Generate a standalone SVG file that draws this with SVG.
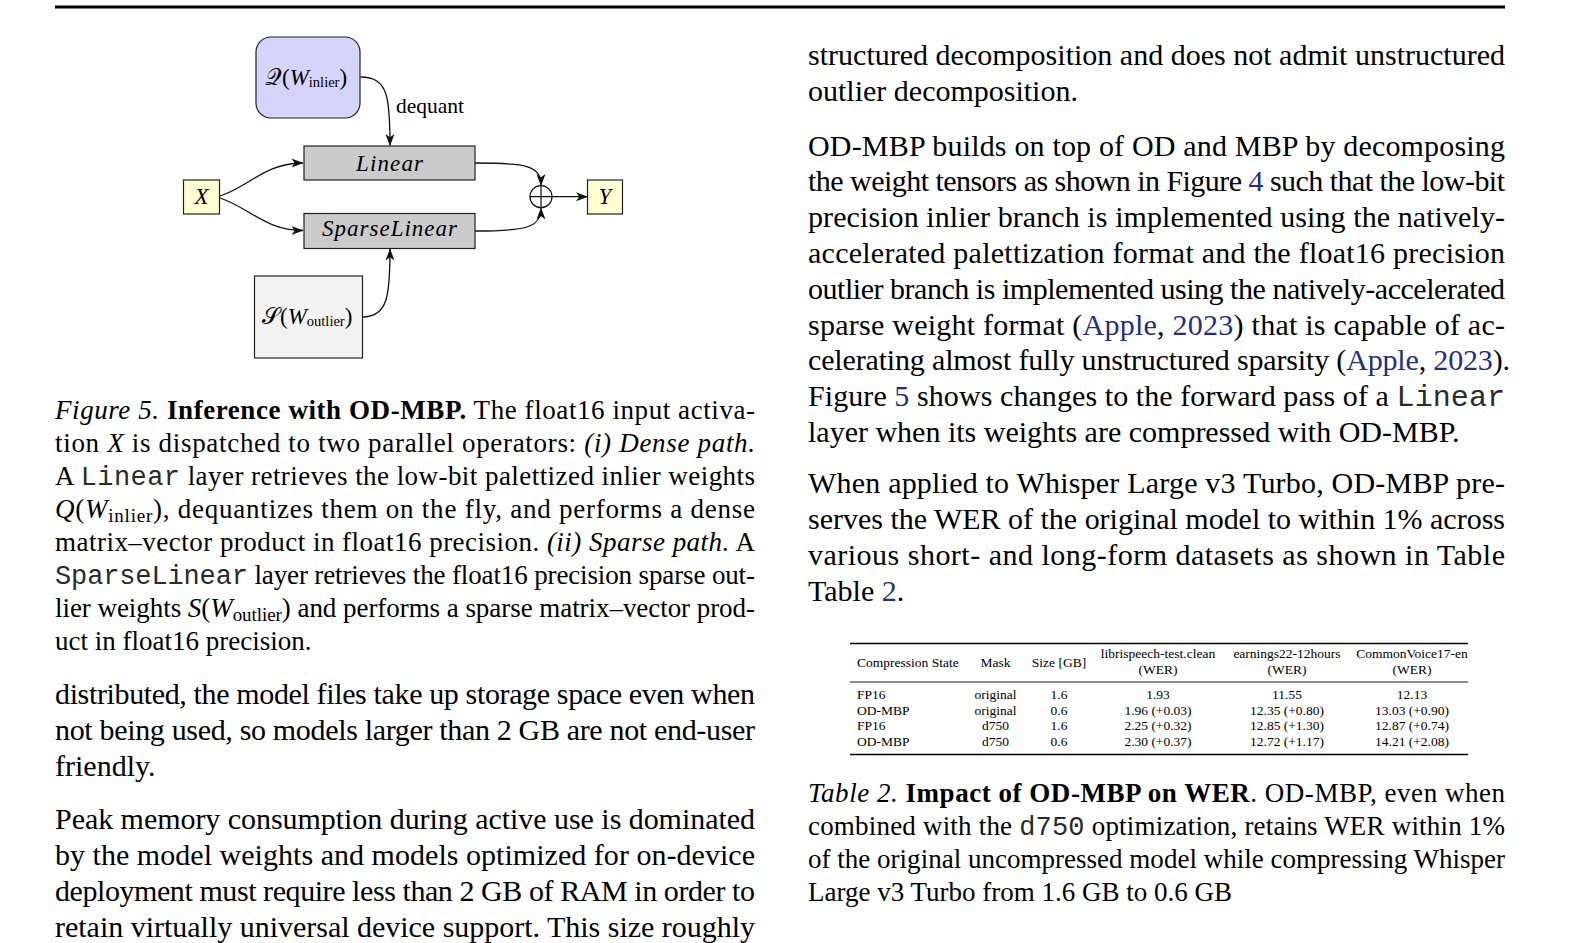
<svg xmlns="http://www.w3.org/2000/svg" width="1576" height="943" viewBox="0 0 1576 943">
<style>
text{font-family:"Liberation Serif","Times New Roman",serif;fill:#000}
.b{font-size:30px}
.c{font-size:27px}
.i{font-style:italic}
.bd{font-weight:bold}
.m{font-family:"Liberation Mono","DejaVu Sans Mono",monospace;fill:#2a2a2a}
.lk{fill:#1f2f86}
.sub{font-size:19px}
.tb{font-size:13.5px}
.box{stroke:#222;stroke-width:1.2}
.con{fill:none;stroke:#111;stroke-width:1.3;marker-end:url(#arr)}
.fig{font-size:23px}
.scr{font-family:"DejaVu Serif","DejaVu Sans",serif;font-style:normal}
</style>
<defs>
<marker id="arr" markerUnits="userSpaceOnUse" viewBox="0 0 12 10" markerWidth="12" markerHeight="10" refX="11.5" refY="5" orient="auto">
<path d="M0,0.5 L12,5 L0,9.5 L3.2,5 Z" fill="#111"/>
</marker>
</defs>
<rect width="1576" height="943" fill="#fff"/>
<line x1="55" y1="7" x2="1505" y2="7" stroke="#000" stroke-width="2.8"/>

<!-- Figure 5 -->
<g id="connectors">
<path class="con" d="M360.5,77 C388,77 390,97 390,145.5"/>
<path class="con" d="M220,196 C250,186 265,163 303,163"/>
<path class="con" d="M220,198 C250,208 265,230.5 303,230.5"/>
<path class="con" d="M475,163 C525,163 541,165 541,185.5"/>
<path class="con" d="M475,231 C525,231 541,228 541,208"/>
<path class="con" d="M552,196.7 L587.5,196.7"/>
<path class="con" d="M362.5,317 C388,317 390,295 390,249"/>
<text x="396" y="113" font-size="21.5px">dequant</text>
</g>
<g id="node-q">
<rect class="box" x="256" y="37" width="104" height="81" rx="15" fill="#d4d4fc"/>
<text class="fig" x="265" y="85"><tspan class="scr">𝒬</tspan>(<tspan class="i">W</tspan><tspan font-size="14.5" dy="2">inlier</tspan><tspan dy="-2">)</tspan></text>
</g>
<g id="node-linear">
<rect class="box" x="304" y="146" width="171" height="34" fill="#cbcbcb"/>
<text class="fig i" x="389.5" y="170.5" text-anchor="middle" textLength="67" lengthAdjust="spacing">Linear</text>
</g>
<g id="node-sparselinear">
<rect class="box" x="304" y="213.5" width="171" height="35" fill="#cbcbcb"/>
<text class="fig i" x="389.5" y="236" text-anchor="middle" textLength="135" lengthAdjust="spacing">SparseLinear</text>
</g>
<g id="node-x">
<rect class="box" x="183.5" y="180" width="36" height="34" fill="#ffffd2"/>
<text class="fig i" x="201.5" y="204" text-anchor="middle">X</text>
</g>
<g id="node-y">
<rect class="box" x="587.5" y="180" width="35" height="34" fill="#ffffd2"/>
<text class="fig i" x="605" y="204" text-anchor="middle">Y</text>
</g>
<g id="node-plus">
<circle cx="541" cy="196.7" r="11" fill="#fff" stroke="#111" stroke-width="1.2"/>
<path d="M530,196.7 H552 M541,185.7 V207.7" stroke="#111" stroke-width="1.2"/>
</g>
<g id="node-s">
<rect class="box" x="254.5" y="276" width="108" height="82" fill="#f2f2f2"/>
<text class="fig" x="262" y="324"><tspan class="scr">𝒮</tspan>(<tspan class="i">W</tspan><tspan font-size="14.5" dy="2">outlier</tspan><tspan dy="-2">)</tspan></text>
</g>

<!-- Figure caption -->
<g id="fig-caption" class="c">
<text x="55" y="419" textLength="700" lengthAdjust="spacing"><tspan class="i">Figure 5.</tspan>  <tspan class="bd">Inference with OD-MBP.</tspan> The float16 input activa-</text>
<text x="55" y="452" textLength="700" lengthAdjust="spacing">tion <tspan class="i">X</tspan> is dispatched to two parallel operators: <tspan class="i">(i) Dense path.</tspan></text>
<text x="55" y="485" textLength="700" lengthAdjust="spacing">A <tspan class="m">Linear</tspan> layer retrieves the low-bit palettized inlier weights</text>
<text x="55" y="518" textLength="700" lengthAdjust="spacing"><tspan class="i">Q</tspan>(<tspan class="i">W</tspan><tspan class="sub" dy="4">inlier</tspan><tspan dy="-4">), dequantizes them on the fly, and performs a dense</tspan></text>
<text x="55" y="551" textLength="700" lengthAdjust="spacing">matrix–vector product in float16 precision. <tspan class="i">(ii) Sparse path.</tspan>  A</text>
<text x="55" y="584" textLength="700" lengthAdjust="spacing"><tspan class="m">SparseLinear</tspan> layer retrieves the float16 precision sparse out-</text>
<text x="55" y="617" textLength="700" lengthAdjust="spacing">lier weights <tspan class="i">S</tspan>(<tspan class="i">W</tspan><tspan class="sub" dy="4">outlier</tspan><tspan dy="-4">) and performs a sparse matrix–vector prod-</tspan></text>
<text x="55" y="650">uct in float16 precision.</text>
</g>

<!-- Left column body -->
<g id="left-body" class="b">
<text x="55" y="704" textLength="700" lengthAdjust="spacing">distributed, the model files take up storage space even when</text>
<text x="55" y="740" textLength="700" lengthAdjust="spacing">not being used, so models larger than 2 GB are not end-user</text>
<text x="55" y="776">friendly.</text>
<text x="55" y="829" textLength="700" lengthAdjust="spacing">Peak memory consumption during active use is dominated</text>
<text x="55" y="865" textLength="700" lengthAdjust="spacing">by the model weights and models optimized for on-device</text>
<text x="55" y="901" textLength="700" lengthAdjust="spacing">deployment must require less than 2 GB of RAM in order to</text>
<text x="55" y="937" textLength="700" lengthAdjust="spacing">retain virtually universal device support. This size roughly</text>
</g>

<!-- Right column body -->
<g id="right-body" class="b">
<text x="808" y="65" textLength="697" lengthAdjust="spacing">structured decomposition and does not admit unstructured</text>
<text x="808" y="101">outlier decomposition.</text>
<text x="808" y="155.5" textLength="697" lengthAdjust="spacing">OD-MBP builds on top of OD and MBP by decomposing</text>
<text x="808" y="191.3" textLength="697" lengthAdjust="spacing">the weight tensors as shown in Figure <tspan class="lk">4</tspan> such that the low-bit</text>
<text x="808" y="227.1" textLength="697" lengthAdjust="spacing">precision inlier branch is implemented using the natively-</text>
<text x="808" y="262.9" textLength="697" lengthAdjust="spacing">accelerated palettization format and the float16 precision</text>
<text x="808" y="298.7" textLength="697" lengthAdjust="spacing">outlier branch is implemented using the natively-accelerated</text>
<text x="808" y="334.5" textLength="697" lengthAdjust="spacing">sparse weight format (<tspan class="lk">Apple</tspan>, <tspan class="lk">2023</tspan>) that is capable of ac-</text>
<text x="808" y="370.3" textLength="702" lengthAdjust="spacing">celerating almost fully unstructured sparsity (<tspan class="lk">Apple</tspan>, <tspan class="lk">2023</tspan>).</text>
<text x="808" y="406.1" textLength="697" lengthAdjust="spacing">Figure <tspan class="lk">5</tspan> shows changes to the forward pass of a <tspan class="m">Linear</tspan></text>
<text x="808" y="441.9">layer when its weights are compressed with OD-MBP.</text>
<text x="808" y="493" textLength="697" lengthAdjust="spacing">When applied to Whisper Large v3 Turbo, OD-MBP pre-</text>
<text x="808" y="529" textLength="697" lengthAdjust="spacing">serves the WER of the original model to within 1% across</text>
<text x="808" y="565" textLength="697" lengthAdjust="spacing">various short- and long-form datasets as shown in Table</text>
<text x="808" y="601">Table <tspan class="lk">2</tspan>.</text>
</g>

<!-- Table 2 -->
<g id="table" class="tb">
<line x1="850" y1="643.5" x2="1468" y2="643.5" stroke="#000" stroke-width="1.5"/>
<line x1="850" y1="682" x2="1468" y2="682" stroke="#000" stroke-width="0.9"/>
<line x1="850" y1="754.5" x2="1468" y2="754.5" stroke="#000" stroke-width="1.5"/>
<text x="857" y="667">Compression State</text>
<text x="995.5" y="667" text-anchor="middle">Mask</text>
<text x="1059" y="667" text-anchor="middle">Size [GB]</text>
<text x="1158" y="658" text-anchor="middle">librispeech-test.clean</text>
<text x="1158" y="674" text-anchor="middle">(WER)</text>
<text x="1287" y="658" text-anchor="middle">earnings22-12hours</text>
<text x="1287" y="674" text-anchor="middle">(WER)</text>
<text x="1412" y="658" text-anchor="middle">CommonVoice17-en</text>
<text x="1412" y="674" text-anchor="middle">(WER)</text>
<text x="857" y="699">FP16</text>
<text x="857" y="714.5">OD-MBP</text>
<text x="857" y="730">FP16</text>
<text x="857" y="745.5">OD-MBP</text>
<text x="995.5" y="699" text-anchor="middle">original</text>
<text x="995.5" y="714.5" text-anchor="middle">original</text>
<text x="995.5" y="730" text-anchor="middle">d750</text>
<text x="995.5" y="745.5" text-anchor="middle">d750</text>
<text x="1059" y="699" text-anchor="middle">1.6</text>
<text x="1059" y="714.5" text-anchor="middle">0.6</text>
<text x="1059" y="730" text-anchor="middle">1.6</text>
<text x="1059" y="745.5" text-anchor="middle">0.6</text>
<text x="1158" y="699" text-anchor="middle">1.93</text>
<text x="1158" y="714.5" text-anchor="middle">1.96 (+0.03)</text>
<text x="1158" y="730" text-anchor="middle">2.25 (+0.32)</text>
<text x="1158" y="745.5" text-anchor="middle">2.30 (+0.37)</text>
<text x="1287" y="699" text-anchor="middle">11.55</text>
<text x="1287" y="714.5" text-anchor="middle">12.35 (+0.80)</text>
<text x="1287" y="730" text-anchor="middle">12.85 (+1.30)</text>
<text x="1287" y="745.5" text-anchor="middle">12.72 (+1.17)</text>
<text x="1412" y="699" text-anchor="middle">12.13</text>
<text x="1412" y="714.5" text-anchor="middle">13.03 (+0.90)</text>
<text x="1412" y="730" text-anchor="middle">12.87 (+0.74)</text>
<text x="1412" y="745.5" text-anchor="middle">14.21 (+2.08)</text>
</g>

<!-- Table caption -->
<g id="table-caption" class="c">
<text x="808" y="802" textLength="697" lengthAdjust="spacing"><tspan class="i">Table 2.</tspan> <tspan class="bd">Impact of OD-MBP on WER</tspan>. OD-MBP, even when</text>
<text x="808" y="835" textLength="697" lengthAdjust="spacing">combined with the <tspan class="m">d750</tspan> optimization, retains WER within 1%</text>
<text x="808" y="868" textLength="697" lengthAdjust="spacing">of the original uncompressed model while compressing Whisper</text>
<text x="808" y="901">Large v3 Turbo from 1.6 GB to 0.6 GB</text>
</g>
</svg>
